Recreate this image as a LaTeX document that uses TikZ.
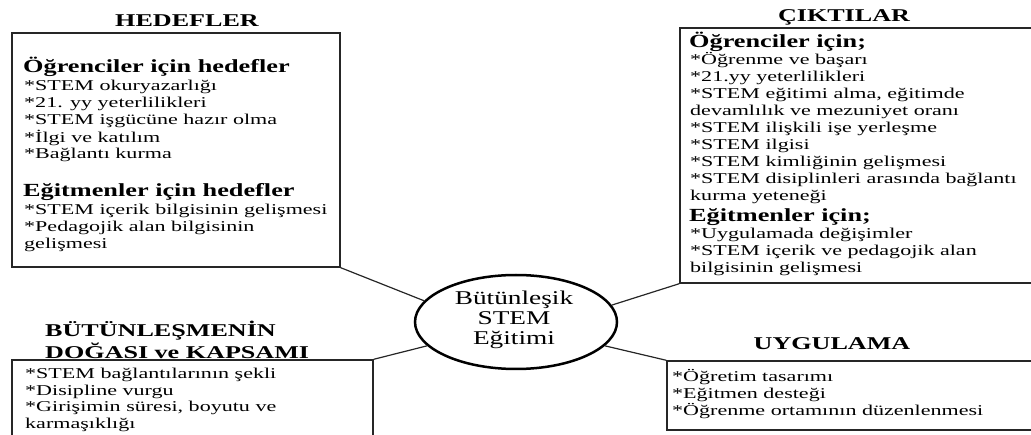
\documentclass[tikz,border=0pt]{standalone}
\usepackage{fontspec}
\usepackage{graphicx}
\setmainfont{Liberation Serif}
\usetikzlibrary{shapes.geometric}
\newcommand{\sxb}[1]{\scalebox{1.47}[1]{#1}}
\newcommand{\sxh}[1]{\scalebox{1.42}[1]{#1}}
\newcommand{\sxt}[1]{\scalebox{1.45}[1]{#1}}
\newcommand{\lns}[1]{\sxb{\begin{tabular}[t]{@{}l@{}}#1\end{tabular}}}
\begin{document}
\begin{tikzpicture}[x=1pt,y=-1pt,
  box/.style={draw=black!85, line width=1.4pt, rectangle, inner sep=0pt},
  conn/.style={draw=black!85, line width=1.2pt},
  ttl/.style={font=\fontsize{18}{18}\selectfont\bfseries, inner sep=0pt, anchor=base},
  hd/.style={font=\fontsize{18.5}{20}\selectfont\bfseries, anchor=base west, inner sep=0pt},
  bd/.style={font=\fontsize{15}{16.8}\selectfont, anchor=base west, inner sep=0pt},
  bdw/.style={font=\fontsize{15}{17}\selectfont, anchor=base west, inner sep=0pt},
  bdn/.style={font=\fontsize{15}{16.5}\selectfont, anchor=base west, inner sep=0pt},
  core/.style={ellipse, draw=black, line width=2.5pt, inner sep=0pt,
    minimum width=202pt, minimum height=94pt}
]
\useasboundingbox (0,0) rectangle (1031,435);
\clip (0,0) rectangle (1031,435);

% boxes
\node[box, minimum width=328pt, minimum height=234pt] (hed) at (176,150) {};
\node[box, minimum width=360pt, minimum height=255pt] (cik) at (860,155.5) {};
\node[box, minimum width=361pt, minimum height=90pt] (doga) at (192.5,405) {};
\node[box, minimum width=373pt, minimum height=69pt] (uyg) at (853.5,395.5) {};

% centre
\node[core] (c) at (516,322) {};
\node[inner sep=0pt, anchor=base] (ct) at (514,305) {\fontsize{19.5}{20}\selectfont\scalebox{1.4}[1]{\begin{tabular}[t]{@{}c@{}}Bütünleşik\\STEM\\Eğitimi\end{tabular}}};

% connectors
\draw[conn] (hed.south east) -- (c.167);
\draw[conn] (c.10) -- (cik.south west);
\draw[conn] (c.195) -- (doga.north east);
\draw[conn] (c.345) -- (uyg.north west);

% titles
\node[ttl] (t1) at (187,27) {\sxt{HEDEFLER}};
\node[ttl] (t2) at (844,22) {\sxt{ÇIKTILAR}};
\node[ttl] (t4) at (832,350) {\sxt{UYGULAMA}};
\node[ttl, anchor=base west] (t3) at (45,337) {\sxt{\begin{tabular}[t]{@{}l@{}}BÜTÜNLEŞMENİN\\DOĞASI ve KAPSAMI\end{tabular}}};

% HEDEFLER content
\node[hd] (h1) at (23,73) {\sxh{Öğrenciler için hedefler}};
\node[bd] (b1) at (24,91) {\lns{*STEM okuryazarlığı\\{*}21. yy yeterlilikleri\\{*}STEM işgücüne hazır olma\\{*}İlgi ve katılım\\{*}Bağlantı kurma}};
\node[hd] (h2) at (23,197) {\sxh{Eğitmenler için hedefler}};
\node[bd] (b2) at (24,215) {\lns{*STEM içerik bilgisinin gelişmesi\\{*}Pedagojik alan bilgisinin\\gelişmesi}};

% CIKTILAR content
\node[hd] (h3) at (689,48) {\sxh{Öğrenciler için;}};
\node[bdw] (b3) at (690,65) {\lns{*Öğrenme ve başarı\\{*}21.yy yeterlilikleri\\{*}STEM eğitimi alma, eğitimde\\devamlılık ve mezuniyet oranı\\{*}STEM ilişkili işe yerleşme\\{*}STEM ilgisi\\{*}STEM kimliğinin gelişmesi\\{*}STEM disiplinleri arasında bağlantı\\kurma yeteneği}};
\node[hd] (h4) at (689,222) {\sxh{Eğitmenler için;}};
\node[bdw] (b4) at (690,239) {\lns{*Uygulamada değişimler\\{*}STEM içerik ve pedagojik alan\\bilgisinin gelişmesi}};

% DOGA content
\node[bdn] (b5) at (25,379) {\lns{*STEM bağlantılarının şekli\\{*}Disipline vurgu\\{*}Girişimin süresi, boyutu ve\\karmaşıklığı}};

% UYGULAMA content
\node[bdn] (b6) at (672,382) {\lns{*Öğretim tasarımı\\{*}Eğitmen desteği\\{*}Öğrenme ortamının düzenlenmesi}};
\end{tikzpicture}
\end{document}
